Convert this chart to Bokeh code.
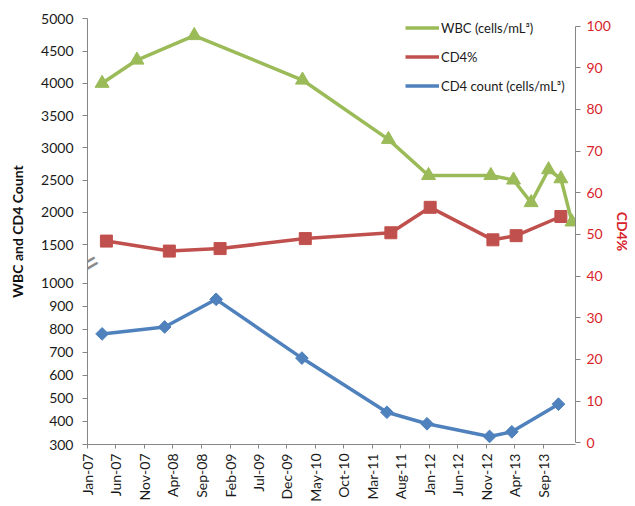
import math
import pandas as pd
from bokeh.plotting import figure
from bokeh.models import (Range1d, LinearAxis, FixedTicker, DatetimeTickFormatter,
                          Legend, LegendItem, Label)
from bokeh.embed import file_html
from bokeh.resources import INLINE

# ---------------- data ----------------
wbc_dates = ["2007-03-20", "2007-09-22", "2008-07-24", "2010-02-22", "2011-05-27",
             "2011-12-27", "2012-11-24", "2013-03-25", "2013-06-27", "2013-09-28",
             "2013-12-03", "2014-01-31"]
wbc_values = [4000, 4360, 4740, 4050, 3130, 2570, 2570, 2500, 2150, 2660, 2520, 1850]

cd4_dates = ["2007-03-20", "2008-02-17", "2008-11-18", "2010-02-19", "2011-05-19",
             "2011-12-19", "2012-11-17", "2013-03-16", "2013-11-20"]
cd4_counts = [780, 810, 930, 675, 440, 390, 335, 355, 475]

pct_dates = ["2007-04-12", "2008-03-13", "2008-12-09", "2010-03-09", "2011-06-09",
             "2012-01-05", "2012-12-05", "2013-04-08", "2013-12-03"]
cd4_pct = [48.4, 46.0, 46.6, 49.0, 50.4, 56.5, 48.7, 49.7, 54.3]

x_tick_labels = ["Jan-07", "Jun-07", "Nov-07", "Apr-08", "Sep-08", "Feb-09", "Jul-09",
                 "Dec-09", "May-10", "Oct-10", "Mar-11", "Aug-11", "Jan-12", "Jun-12",
                 "Nov-12", "Apr-13", "Sep-13"]
left_lower_ticks = [300, 400, 500, 600, 700, 800, 900, 1000]
left_upper_ticks = [1500, 2000, 2500, 3000, 3500, 4000, 4500, 5000]
right_ticks = [0, 10, 20, 30, 40, 50, 60, 70, 80, 90, 100]

legend_labels = ["WBC (cells/mL\u00b3)", "CD4%", "CD4 count (cells/mL\u00b3)"]

# axis ranges (broken left axis: lower part counts, upper part WBC)
count_range = (300, 2148.7)
wbc_range = (-1601.5, 5004.7)
pct_range = (-0.4, 101.8)
x_start, x_end = "2007-01-01", "2014-02-19"

GREEN = "#9BBB59"
RED = "#C0504D"
BLUE = "#4F81BD"
AXIS_RED = "#D9232B"
GREY = "#868686"
FONT = "Lato"


def to_ms(s):
    return pd.Timestamp(s).value / 1e6


# --------------- figure ---------------
p = figure(width=635, height=506, x_axis_type="datetime",
           x_range=Range1d(to_ms(x_start), to_ms(x_end)),
           y_range=Range1d(*count_range),
           output_backend="svg", toolbar_location=None,
           min_border_left=87, min_border_right=60,
           min_border_top=18, min_border_bottom=62)
p.extra_y_ranges = {"wbc": Range1d(*wbc_range), "pct": Range1d(*pct_range)}
p.outline_line_color = None
p.xgrid.visible = False
p.ygrid.visible = False
p.background_fill_color = "white"
p.border_fill_color = "white"


def wbc_to_count(w):
    c0, c1 = count_range
    w0, w1 = wbc_range
    return c0 + (w - w0) / (w1 - w0) * (c1 - c0)


# left axis: counts below, WBC above the break
left = p.yaxis[0]
upper_pos = [round(wbc_to_count(w), 4) for w in left_upper_ticks]
left.ticker = FixedTicker(ticks=left_lower_ticks + upper_pos)
left.major_label_overrides = {**{float(t): str(t) for t in left_lower_ticks},
                              **{pos: str(w) for pos, w in zip(upper_pos, left_upper_ticks)}}
left.axis_label = "WBC and CD4 Count"

# right axis
right = LinearAxis(y_range_name="pct", ticker=FixedTicker(ticks=right_ticks),
                   bounds=(0, 100), axis_label="CD4%")
p.add_layout(right, "right")

# x axis
xa = p.xaxis[0]
xa.ticker = FixedTicker(ticks=[pd.to_datetime(l, format="%b-%y").value / 1e6 for l in x_tick_labels])
fmt = "%b-%y"
xa.formatter = DatetimeTickFormatter(milliseconds=fmt, seconds=fmt, minsec=fmt, minutes=fmt,
                                     hourmin=fmt, hours=fmt, days=fmt, months=fmt, years=fmt)
xa.major_label_orientation = math.pi / 2

for ax in (left, right, xa):
    ax.axis_line_color = GREY
    ax.major_tick_line_color = GREY
    ax.minor_tick_line_color = None
    ax.major_tick_in = 0
    ax.major_tick_out = 5
    ax.major_label_text_font = FONT
    ax.major_label_text_font_size = "14px"
    ax.major_label_text_color = "#1a1a1a"
    ax.axis_label_text_font = FONT
    ax.axis_label_text_font_size = "14px"
    ax.axis_label_text_font_style = "bold"
    ax.axis_label_text_color = "#111111"

left.major_label_standoff = 9
left.axis_label_standoff = 12
right.major_label_standoff = 6
right.axis_label_standoff = 0
right.major_label_text_color = AXIS_RED
right.axis_label_text_color = AXIS_RED
xa.major_tick_out = 4
xa.major_label_standoff = 5

# --------------- series ---------------
wx = pd.to_datetime(wbc_dates)
cx = pd.to_datetime(cd4_dates)
px_ = pd.to_datetime(pct_dates)

l_pct = p.line(px_, cd4_pct, y_range_name="pct", line_color=RED, line_width=3.5)
p.scatter(px_, cd4_pct, y_range_name="pct", marker="square", size=12,
          fill_color=RED, line_color=RED)

l_cnt = p.line(cx, cd4_counts, line_color=BLUE, line_width=3.5)
p.scatter(cx, cd4_counts, marker="square", angle=math.pi / 4, size=9,
          fill_color=BLUE, line_color=BLUE)

l_wbc = p.line(wx, wbc_values, y_range_name="wbc", line_color=GREEN, line_width=3.5)
p.scatter(wx, wbc_values, y_range_name="wbc", marker="triangle", size=14,
          fill_color=GREEN, line_color=GREEN)

# axis break mark
brk_y = (1000 + wbc_to_count(1500)) / 2
p.add_layout(Label(x=to_ms(x_start), y=brk_y, text="=", angle=30, angle_units="deg",
                   text_align="center", text_baseline="middle",
                   text_font="DejaVu Sans", text_font_size="30px", text_color="#8a8a8a"))

legend = Legend(items=[LegendItem(label=legend_labels[0], renderers=[l_wbc]),
                       LegendItem(label=legend_labels[1], renderers=[l_pct]),
                       LegendItem(label=legend_labels[2], renderers=[l_cnt])],
                location=(318, 350))
legend.border_line_color = None
legend.background_fill_alpha = 0
legend.padding = 0
legend.margin = 0
legend.spacing = 12
legend.glyph_width = 34
legend.glyph_height = 17
legend.label_height = 17
legend.label_standoff = 2
legend.label_text_font = FONT
legend.label_text_font_size = "13px"
legend.label_text_color = "#1a1a1a"
p.add_layout(legend)

open("out.html", "w").write(file_html(p, INLINE))
